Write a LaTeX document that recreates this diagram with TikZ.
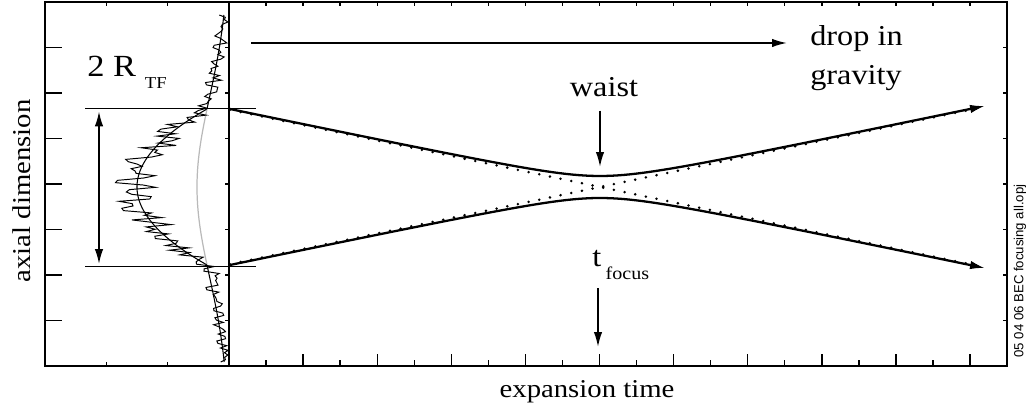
\documentclass[tikz,border=0pt]{standalone}
\usepackage{fontspec}
\setmainfont{Liberation Serif}[FakeStretch=1.12]
\newfontfamily\stampfont{Liberation Sans}
\usetikzlibrary{arrows.meta}

\begin{document}
\begin{tikzpicture}[
		x=0.02cm, y=-0.02cm,
		declare function={
			gth(\y)=32*exp(-0.5*((\y-187)/90)^2);
			ptf(\y)=(abs(\y-187)<78)*60*(1-((\y-187)/78)^2);
			wst(\x)=sqrt(121+(0.2087*(\x-600))^2);
		},
		frame/.style={line width=1.2pt},
		tick/.style={line width=0.8pt},
		beam/.style={line width=1.3pt, -{Latex[length=8.5pt,width=4.8pt]}},
		asym/.style={line width=1.6pt, line cap=round, dash pattern=on 0pt off 6.2pt},
		pointer/.style={line width=1pt, -{Latex[length=8.5pt,width=4.8pt]}},
		thin/.style={line width=0.6pt},
		lbl/.style={inner sep=0pt, font=\fontsize{16.4pt}{22.1pt}\selectfont},
		axlbl/.style={inner sep=0pt, font=\fontsize{14.6pt}{17pt}\selectfont},
	]
	\useasboundingbox (0,0) rectangle (1028,411);

	% Cadres
	\draw[frame] (45,2) rectangle (1007,366);
	\draw[line width=1.5pt] (229,2) -- (229,366);

	% Graduations
	\foreach \yy in {47.5,93,...,321} {
		\draw[tick] (45,\yy) -- ++(17,0);
		\draw[tick] (229,\yy) -- ++(-4,0);
		\draw[tick] (1007,\yy) -- ++(-4,0);
	}
	\foreach \xx in {106.3,167.7} {
		\draw[tick] (\xx,2) -- ++(0,4);
		\draw[tick] (\xx,366) -- ++(0,-4);
	}
	\foreach \i in {1,...,20} {
		\pgfmathsetmacro\len{mod(\i,2)==0 ? 12 : 6}
		\draw[tick] (229+37.05*\i,366) -- ++(0,-\len);
		\draw[tick] (229+37.05*\i,2) -- ++(0,4);
	}

	% Profil axial
	\draw[gray!55, line width=0.7pt] plot[variable=\t, domain=109:266, samples=60] ({229-gth(\t)}, \t);
	\pgfmathsetseed{4711}
	\draw[line width=0.55pt] plot[variable=\t, domain=15:362, samples=150]
		({229-gth(\t)-ptf(\t)+2.3*rand*sqrt(gth(\t)+ptf(\t))}, \t);
	\draw[thin] plot[variable=\t, domain=15:362, samples=250] ({229-gth(\t)-ptf(\t)}, \t);

	% Rayon de Thomas-Fermi
	\draw[thin] (85,108.7) -- (256,108.7);
	\draw[thin] (85,266.7) -- (256,266.7);
	\coordinate (rtop) at (99,108.7);
	\coordinate (rbot) at (99,266.7);
	\draw[line width=1pt, {Latex[length=8.5pt,width=4.8pt]}-{Latex[length=8.5pt,width=4.8pt]},
		shorten <=1.5pt, shorten >=1.5pt] (rtop) -- (rbot);
	\node[lbl, anchor=base west, font=\fontsize{17.5pt}{20pt}\selectfont] (rtf) at (87,77)
		{2 R\kern5pt\raisebox{-6.8pt}{\fontsize{9.5pt}{11pt}\selectfont TF}};

	% Enveloppe du nuage
	\draw[asym] (230,109.8) -- (980,266.3);
	\draw[asym] (230,264.2) -- (980,107.7);
	\draw[beam] plot[domain=230:985, samples=120] (\x, {187-wst(\x)});
	\draw[beam] plot[domain=230:985, samples=120] (\x, {187+wst(\x)});

	% Textes et fleches
	\coordinate (gstart) at (251,43);
	\coordinate (gend) at (787,43);
	\draw[pointer] (gstart) -- (gend);
	\node[lbl, anchor=north west, align=left] (drop) at (810,25) {drop in\\gravity};

	\node[lbl, anchor=base] (waist) at (604,97) {waist};
	\coordinate (waistpt) at (600,167);
	\draw[pointer, shorten <=7.4pt] (waist.south -| waistpt) -- (waistpt);

	\node[lbl, anchor=base west] (tfocus) at (592,267)
		{t\kern2.5pt\raisebox{-7.4pt}{\fontsize{10.2pt}{12pt}\selectfont focus}};
	\coordinate (fpt) at (598,347);
	\draw[pointer, shorten <=4.5pt] (tfocus.south -| fpt) -- (fpt);

	% Axes
	\node[axlbl, rotate=90] (ylab) at (22,191) {axial dimension};
	\node[axlbl, anchor=base] (xlab) at (587,398) {expansion time};
	\node[rotate=90, inner sep=0pt, font=\stampfont\fontsize{7.5pt}{9pt}\selectfont] (stamp)
		at (1020,271) {05 04 06 BEC focusing all.opj};

\end{tikzpicture}
\end{document}
